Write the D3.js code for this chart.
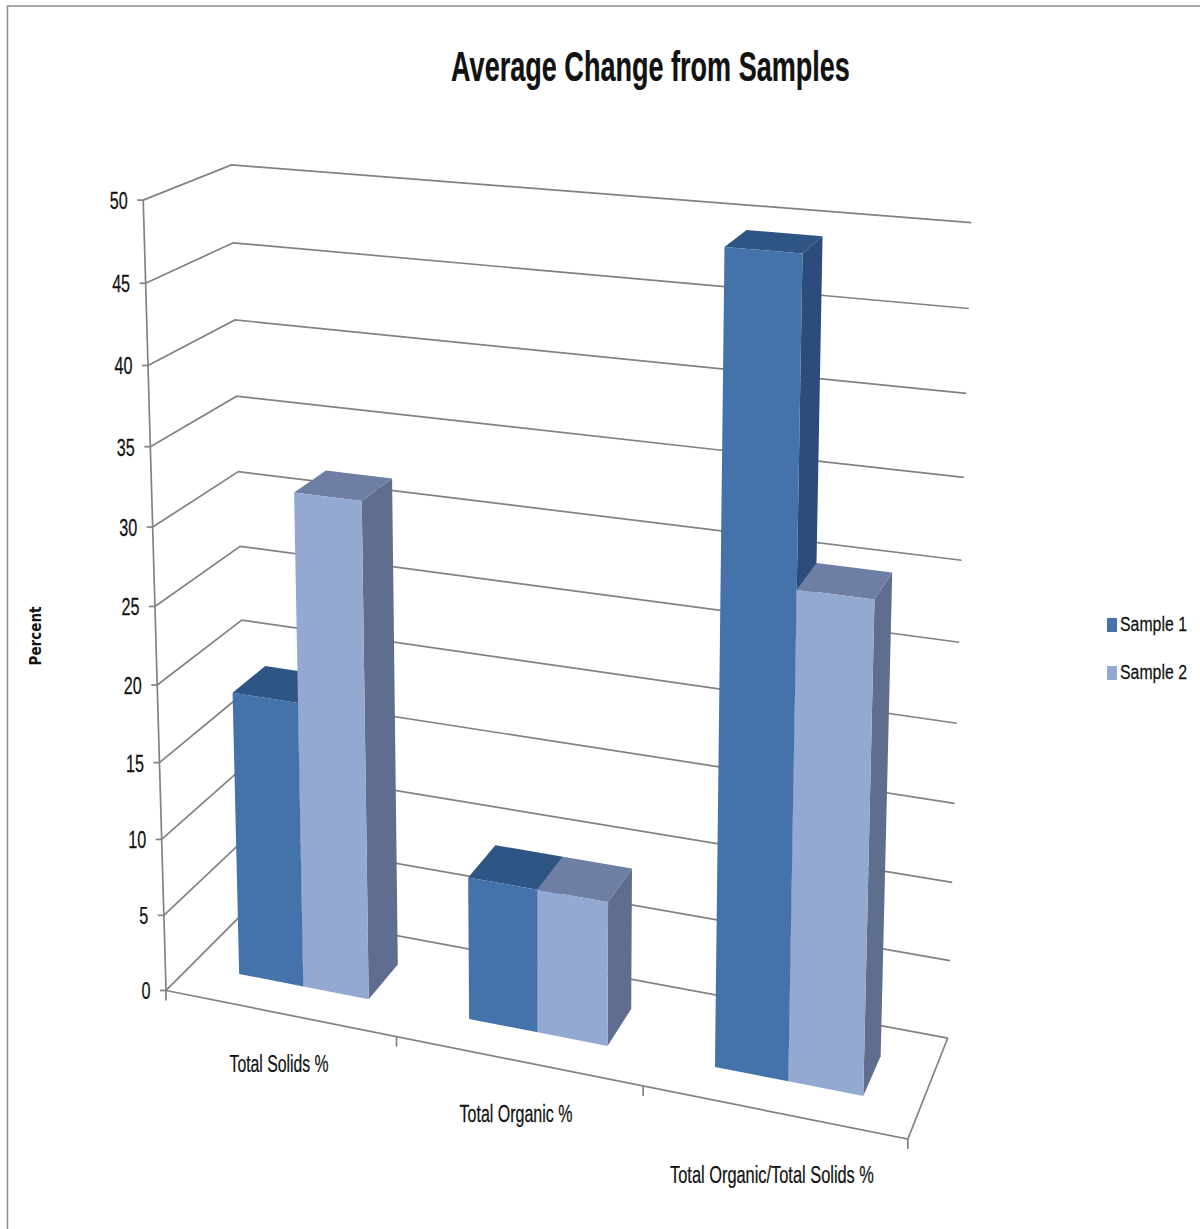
<!DOCTYPE html>
<html>
<head>
<meta charset="utf-8">
<style>
  html, body { margin: 0; padding: 0; background: #fff; }
  svg { display: block; }
  text { font-family: "Liberation Sans", sans-serif; fill: #111; }
</style>
<script src="https://cdnjs.cloudflare.com/ajax/libs/d3/7.8.5/d3.min.js"></script>
</head>
<body>
<svg id="chart" width="1200" height="1229"></svg>
<script>
// Chart values
const categories = ["Total Solids %", "Total Organic %", "Total Organic/Total Solids %"];
const sample1 = [18.65, 9.2, 49.3];
const sample2 = [32, 9.2, 30];
const seriesNames = ["Sample 1", "Sample 2"];
const valueTicks = [0, 5, 10, 15, 20, 25, 30, 35, 40, 45, 50];

// Shades for each series: front face, top face, side face
const frontColors = ["#4472aa", "#94a9d2"];
const topColors = ["#2f5585", "#6e7fa3"];
const sideColors = ["#2c4c7b", "#5f6e8e"];
const gridColor = "#828282";

// Where the plot box lands on the page: [x, value, depth, pageX, pageY]
const frameAnchors = [
  [0, 0, 0, 167.7, 990.7], [1, 0, 0, 908, 1138], [1, 0, 1, 948, 1038],
  [0, 50, 0, 143, 201], [0, 50, 1, 233, 165], [1, 50, 1, 972, 222],
  [0, 0, 1, 248, 908], [1 / 3, 0, 0, 397, 1037], [2 / 3, 0, 0, 643, 1087],
  [1, 25, 1, 958, 643], [0, 25, 0, 153, 605], [0, 25, 1, 239, 546]
];

const yScale = d3.scaleLinear().domain([0, 50]).range([0, 1]);
const catScale = d3.scaleBand().domain(categories).range([0, 1])
  .paddingInner(1.5 / 3.5).paddingOuter(0.75 / 3.5);
const seriesScale = d3.scaleBand().domain(seriesNames).range([0, catScale.bandwidth()]);
const depthScale = d3.scaleLinear().domain([0, 1]).range([0.3, 0.7]);

// Least-squares fit of the 11-parameter perspective camera
function fitCamera(anchors) {
  const rows = [], rhs = [];
  anchors.forEach(([x, v, z, u, w]) => {
    const y = yScale(v);
    rows.push([x, y, z, 1, 0, 0, 0, 0, -u * x, -u * y, -u * z]); rhs.push(u);
    rows.push([0, 0, 0, 0, x, y, z, 1, -w * x, -w * y, -w * z]); rhs.push(w);
  });
  const n = 11;
  const m = d3.range(n).map(i => d3.range(n + 1).map(j =>
    d3.sum(rows, (r, k) => r[i] * (j < n ? r[j] : rhs[k]))));
  for (let i = 0; i < n; i++) {
    let best = i;
    for (let k = i + 1; k < n; k++) if (Math.abs(m[k][i]) > Math.abs(m[best][i])) best = k;
    [m[i], m[best]] = [m[best], m[i]];
    for (let k = 0; k < n; k++) {
      if (k === i) continue;
      const f = m[k][i] / m[i][i];
      for (let j = i; j <= n; j++) m[k][j] -= f * m[i][j];
    }
  }
  return m.map((r, i) => r[n] / r[i]);
}
const cam = fitCamera(frameAnchors);

function project(x, v, z) {
  const y = yScale(v);
  const w = cam[8] * x + cam[9] * y + cam[10] * z + 1;
  return [
    (cam[0] * x + cam[1] * y + cam[2] * z + cam[3]) / w,
    (cam[4] * x + cam[5] * y + cam[6] * z + cam[7]) / w
  ];
}

const svg = d3.select("#chart");
const polyline = d3.line();
const polygon = d3.line().curve(d3.curveLinearClosed);

// Chart-area border, visible on the top and left only
svg.append("path").attr("d", "M7.5,1229V6H1200")
  .attr("fill", "none").attr("stroke", "#8a8a8a").attr("stroke-width", 1.5);

// Side wall and back wall gridlines
const grid = svg.append("g").attr("fill", "none").attr("stroke", gridColor).attr("stroke-width", 1.7);
grid.selectAll("path.gridline").data(valueTicks).join("path")
  .attr("class", "gridline")
  .attr("d", v => polyline([project(0, v, 0), project(0, v, 1), project(1, v, 1)]));

// Vertical axis and its tick marks
grid.append("path").attr("d", polyline([project(0, 0, 0), project(0, 50, 0)]));
grid.selectAll("path.vtick").data(valueTicks).join("path")
  .attr("class", "vtick")
  .attr("d", v => { const [x, y] = project(0, v, 0); return polyline([[x - 6, y], [x, y]]); });

// Floor edges and category tick marks
grid.append("path").attr("d", polyline([project(0, 0, 0), project(1, 0, 0), project(1, 0, 1)]));
grid.selectAll("path.xtick").data([0, 1, 2, 3]).join("path")
  .attr("class", "xtick")
  .attr("d", i => { const [x, y] = project(i / 3, 0, 0); return polyline([[x, y], [x, y + 10]]); });

// Flatten the series into one record per bar, back-to-front in drawing order
const bars = categories.flatMap((c, i) => [sample1[i], sample2[i]].map((value, s) => ({
  category: c, series: s, value,
  x0: catScale(c) + seriesScale(seriesNames[s]),
  x1: catScale(c) + seriesScale(seriesNames[s]) + seriesScale.bandwidth()
})));

const zFront = depthScale(0), zBack = depthScale(1);
const barGroups = svg.append("g").selectAll("g").data(bars).join("g");
barGroups.append("path")
  .attr("fill", d => sideColors[d.series])
  .attr("d", d => polygon([project(d.x1, 0, zFront), project(d.x1, 0, zBack),
                           project(d.x1, d.value, zBack), project(d.x1, d.value, zFront)]));
barGroups.append("path")
  .attr("fill", d => topColors[d.series])
  .attr("d", d => polygon([project(d.x0, d.value, zFront), project(d.x1, d.value, zFront),
                           project(d.x1, d.value, zBack), project(d.x0, d.value, zBack)]));
barGroups.append("path")
  .attr("fill", d => frontColors[d.series])
  .attr("d", d => polygon([project(d.x0, 0, zFront), project(d.x1, 0, zFront),
                           project(d.x1, d.value, zFront), project(d.x0, d.value, zFront)]));

// Narrow text: each string is squeezed horizontally to the given width
function label(parent, str, x, y, size, width, anchor, weight) {
  const t = parent.append("text")
    .attr("font-size", size)
    .attr("font-weight", weight || "normal")
    .attr("text-anchor", anchor || "middle")
    .attr("stroke", "#111").attr("stroke-width", 0.25)
    .text(str);
  const sx = width / t.node().getComputedTextLength();
  t.attr("transform", `translate(${x},${y}) scale(${sx},1)`);
  return t;
}

const texts = svg.append("g");
label(texts, "Average Change from Samples", 650.5, 81, 42, 399, "middle", "bold");

valueTicks.forEach(v => {
  const [x, y] = project(0, v, 0);
  const s = String(v);
  label(texts, s, x - 15.5, y + 9, 24, s.length * 9, "end");
});

const catLabels = [[279, 1072, 99], [516, 1122, 113], [772, 1183, 204]];
categories.forEach((c, i) => {
  const [x, y, w] = catLabels[i];
  label(texts, c, x, y, 24, w);
});

// Vertical axis title, fitted to its length
const axisTitle = svg.append("text")
  .attr("text-anchor", "middle")
  .attr("font-size", 15.5).attr("font-weight", "bold")
  .attr("style", "font-family:'DejaVu Sans',sans-serif")
  .text("Percent");
axisTitle.attr("transform",
  `translate(41,636) rotate(-90) scale(${59 / axisTitle.node().getComputedTextLength()},1)`);

// Legend
const legendRows = [618, 666];
seriesNames.forEach((name, i) => {
  svg.append("rect").attr("x", 1107).attr("y", legendRows[i])
    .attr("width", 10).attr("height", 14).attr("fill", frontColors[i]);
  label(texts, name, 1120, legendRows[i] + 13, 21, 67, "start");
});
</script>
</body>
</html>
